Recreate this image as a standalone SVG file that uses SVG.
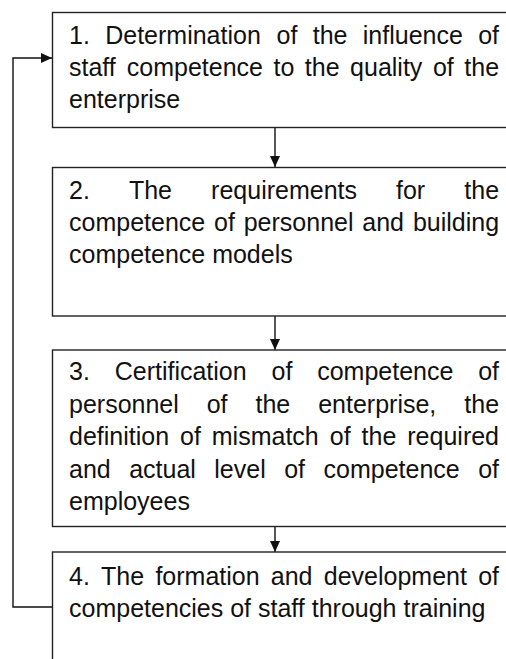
<svg xmlns="http://www.w3.org/2000/svg" width="506" height="659" viewBox="0 0 506 659">
<style>
.box{fill:#fff;stroke:#222;stroke-width:1.4}
.t{font-family:"Liberation Sans",Arial,sans-serif;font-size:25px;fill:#111}
.c{fill:none;stroke:#111;stroke-width:1.4}
</style>
<defs>
<marker id="ah" markerUnits="userSpaceOnUse" markerWidth="12" markerHeight="12" refX="11" refY="5" orient="auto">
<path d="M0,0 L11,5 L0,10 Z" fill="#111"/>
</marker>
</defs>
<g id="connectors">
<line class="c" x1="275" y1="128" x2="275" y2="167" marker-end="url(#ah)"/>
<line class="c" x1="275" y1="316" x2="275" y2="350" marker-end="url(#ah)"/>
<line class="c" x1="275" y1="527" x2="275" y2="552" marker-end="url(#ah)"/>
<polyline class="c" points="52,607 13,607 13,58 52,58" marker-end="url(#ah)"/>
</g>
<g id="node1">
<rect class="box" x="52.5" y="12.5" width="480" height="115"/>
<text class="t" y="44"><tspan x="69">1.</tspan><tspan x="105.2">Determination</tspan><tspan x="276.6">of</tspan><tspan x="312.7">the</tspan><tspan x="362.8">influence</tspan><tspan x="478.2">of</tspan></text>
<text class="t" y="76"><tspan x="69">staff</tspan><tspan x="126.8">competence</tspan><tspan x="273.5">to</tspan><tspan x="304.8">the</tspan><tspan x="350.1">quality</tspan><tspan x="432.9">of</tspan><tspan x="464.3">the</tspan></text>
<text class="t" x="69" y="108">enterprise</text>
</g>
<g id="node2">
<rect class="box" x="52.5" y="167.5" width="480" height="148.5"/>
<text class="t" y="198.5"><tspan x="69">2.</tspan><tspan x="128.9">The</tspan><tspan x="211.1">requirements</tspan><tspan x="396">for</tspan><tspan x="464.3">the</tspan></text>
<text class="t" y="230.5"><tspan x="69">competence</tspan><tspan x="214">of</tspan><tspan x="243.7">personnel</tspan><tspan x="362.3">and</tspan><tspan x="412.9">building</tspan></text>
<text class="t" x="69" y="262.5">competence models</text>
</g>
<g id="node3">
<rect class="box" x="52.5" y="350" width="480" height="176.5"/>
<text class="t" y="380"><tspan x="69">3.</tspan><tspan x="114.7">Certification</tspan><tspan x="271.5">of</tspan><tspan x="317.2">competence</tspan><tspan x="478.2">of</tspan></text>
<text class="t" y="412.5"><tspan x="69">personnel</tspan><tspan x="206.7">of</tspan><tspan x="255.5">the</tspan><tspan x="318.2">enterprise,</tspan><tspan x="464.3">the</tspan></text>
<text class="t" y="445"><tspan x="69">definition</tspan><tspan x="180">of</tspan><tspan x="211.8">mismatch</tspan><tspan x="329.8">of</tspan><tspan x="361.6">the</tspan><tspan x="407.3">required</tspan></text>
<text class="t" y="477.5"><tspan x="69">and</tspan><tspan x="129.2">actual</tspan><tspan x="214.3">level</tspan><tspan x="284.2">of</tspan><tspan x="323.5">competence</tspan><tspan x="478.2">of</tspan></text>
<text class="t" x="69" y="510">employees</text>
</g>
<g id="node4">
<rect class="box" x="52.5" y="552" width="480" height="130"/>
<text class="t" y="585"><tspan x="69">4.</tspan><tspan x="101.1">The</tspan><tspan x="155.4">formation</tspan><tspan x="270.8">and</tspan><tspan x="323.8">development</tspan><tspan x="478.2">of</tspan></text>
<text class="t" x="69" y="617">competencies of staff through training</text>
</g>
</svg>
